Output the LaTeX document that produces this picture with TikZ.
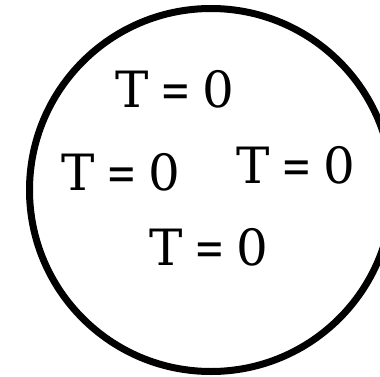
\documentclass[tikz,border=0pt]{standalone}
\usepackage{fontspec}
\usepackage{graphicx}
\setmainfont{DejaVu Serif}
\newcommand{\teqz}{T\kern12pt\scalebox{0.73}[1]{=}\kern11pt0}
\begin{document}
\begin{tikzpicture}[x=1pt,y=1pt,
  lab/.style={inner sep=0pt,anchor=base,font=\fontsize{50}{60}\selectfont}]
\useasboundingbox (0,0) rectangle (380,376);
\draw[line width=7pt] (211,186) circle[radius=181.5];
\node[lab] (t1) at (175,269) {\teqz};
\node[lab] (t2) at (121,186) {\teqz};
\node[lab] (t3) at (296,193) {\teqz};
\node[lab] (t4) at (209,111) {\teqz};
\end{tikzpicture}
\end{document}
